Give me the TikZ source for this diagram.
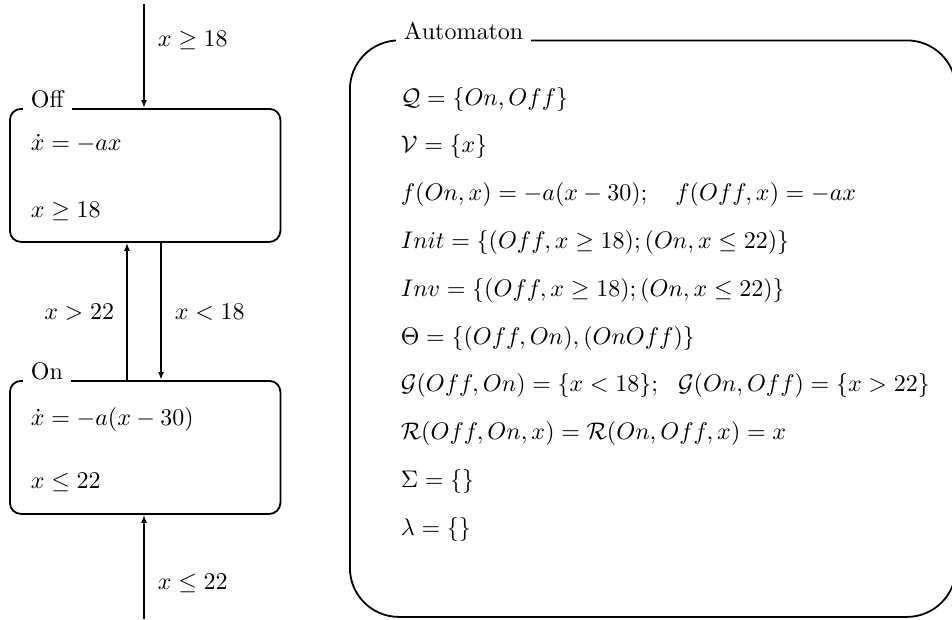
\documentclass[tikz,border=0pt]{standalone}
\usetikzlibrary{arrows.meta}
\DeclareFontFamily{OT1}{cmr}{\hyphenchar\font45 }
\DeclareFontShape{OT1}{cmr}{m}{n}{<->cmr10}{}
\DeclareFontFamily{OML}{cmm}{\skewchar\font127 }
\DeclareFontShape{OML}{cmm}{m}{it}{<->cmmi10}{}
\DeclareFontFamily{OMS}{cmsy}{\skewchar\font48 }
\DeclareFontShape{OMS}{cmsy}{m}{n}{<->cmsy10}{}
\begin{document}
\begin{tikzpicture}[x=1pt,y=-1pt,
  font=\fontencoding{OT1}\fontfamily{cmr}\fontsize{24}{29}\selectfont,
  line width=1.8pt,
  arr/.style={-{Latex[length=8pt,width=6pt]}},
  statebox/.style={draw, rounded corners=11pt, minimum width=270.5pt, minimum height=133pt, anchor=north west, inner sep=0pt},
  boxtitle/.style={fill=white, inner xsep=8pt, inner ysep=3pt, anchor=base west},
  txt/.style={anchor=base west, inner sep=0pt}]
\useasboundingbox (0,0) rectangle (952,619);

% state boxes
\node[statebox] (off) at (9,108) {};
\node[statebox] (on) at (9,380) {};
\node[boxtitle] (offt) at (22,107.5) {Off};
\node[boxtitle] (ont) at (22,379) {On};

\node[txt] (offf) at (30,150) {$\dot{x}=-ax$};
\node[txt] (offi) at (30,217) {$x\geq 18$};
\node[txt] (onf) at (30,425) {$\dot{x}=-a(x-30)$};
\node[txt] (oni) at (30,488) {$x\leq 22$};

% connectors
\coordinate (top) at (144,4);
\coordinate (bot) at (144,619);
\coordinate (ux) at (127,300);
\coordinate (dx) at (161,300);
\draw[arr] (top) -- (top |- off.north);
\draw[arr] (bot) -- (bot |- on.south);
\draw[arr] (ux |- on.north) -- (ux |- off.south);
\draw[arr] (dx |- off.south) -- (dx |- on.north);

\node[txt] (l1) at (157,46) {$x\geq 18$};
\node[txt] (l4) at (157,589) {$x\leq 22$};
\node[anchor=base east, inner sep=0pt] (l2) at (115,319) {$x>22$};
\node[txt] (l3) at (174,319) {$x<18$};

% automaton
\node[draw, rounded corners=49pt, minimum width=606pt, minimum height=576.5pt, anchor=north west, inner sep=0pt] (aut) at (349,39.5) {};
\node[boxtitle] (autt) at (395,39) {Automaton};

\node[txt] at (400,105) {$\mathcal{Q}=\{On,Off\}$};
\node[txt] at (400,152.8) {$\mathcal{V}=\{x\}$};
\node[txt] at (400,200.6) {$f(On,x)=-a(x-30);\quad f(Off,x)=-ax$};
\node[txt] at (400,248.4) {$Init=\{(Off,x\geq 18);(On,x\leq 22)\}$};
\node[txt] at (400,296.2) {$Inv=\{(Off,x\geq 18);(On,x\leq 22)\}$};
\node[txt] at (400,344) {$\Theta=\{(Off,On),(OnOff)\}$};
\node[txt] at (400,391.8) {$\mathcal{G}(Off,On)=\{x<18\};\ \ \mathcal{G}(On,Off)=\{x>22\}$};
\node[txt] at (400,439.6) {$\mathcal{R}(Off,On,x)=\mathcal{R}(On,Off,x)=x$};
\node[txt] at (400,487.4) {$\Sigma=\{\}$};
\node[txt] at (400,535.2) {$\lambda=\{\}$};
\end{tikzpicture}
\end{document}
